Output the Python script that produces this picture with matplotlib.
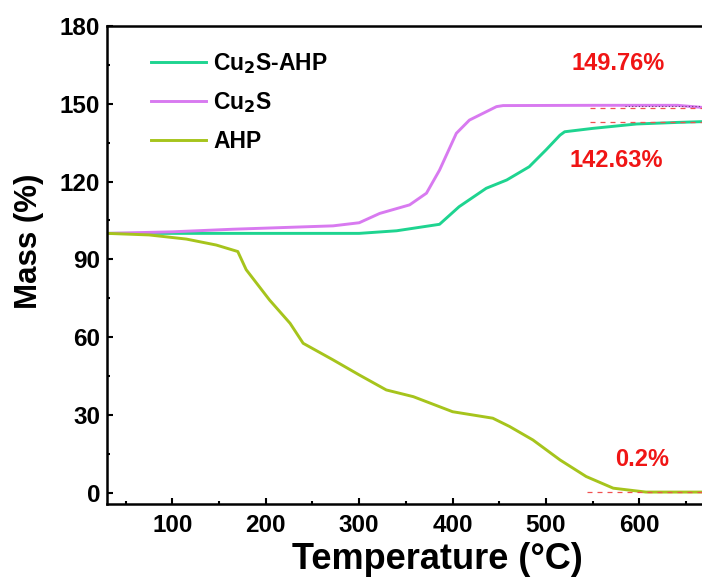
import numpy as np
import matplotlib.pyplot as plt
from matplotlib.ticker import MultipleLocator

plt.rcParams['font.family'] = ['Liberation Sans', 'DejaVu Sans']
plt.rcParams['font.weight'] = 'bold'

# temperature (C) / mass (%)
t_cs_ahp = [30, 100, 200, 300, 340, 386, 407, 436, 458, 482, 500, 515, 520, 550, 597, 640, 667]
m_cs_ahp = [100, 100, 100, 100, 101, 103.5, 110.3, 117.4, 120.6, 125.7, 132.2, 137.9, 139.2, 140.5, 142.2, 142.8, 143.1]

t_cs = [30, 100, 165, 272, 300, 322, 354, 372, 386, 404, 418, 447, 454, 550, 641, 667]
m_cs = [100, 100.6, 101.6, 102.9, 104.1, 107.7, 111, 115.5, 124.4, 138.6, 143.7, 148.9, 149.3, 149.4, 149.4, 148.6]

t_ahp = [30, 75, 115, 147, 170, 179, 204, 226, 240, 272, 300, 329, 358, 400, 443, 461, 486, 515, 543, 572, 607, 667]
m_ahp = [100, 99.4, 97.8, 95.5, 93, 86, 74.3, 65.3, 57.6, 51.2, 45.4, 39.6, 37.0, 31.2, 28.7, 25.5, 20.3, 12.6, 6.2, 1.7, 0.2, 0.2]

labels = ['Cu$_2$S-AHP', 'Cu$_2$S', 'AHP']
colors = ['#1ed490', '#d87af0', '#a6c41c']

# final residue marks: (text, dashed-line level, dash start, text x, text y)
marks = [('149.76%', 148.4, 547, 527, 165.4),
         ('142.63%', 143.0, 547, 525, 128.1),
         ('0.2%', 0.2, 544, 574, 12.8)]

fig = plt.figure(figsize=(7.02, 5.79), dpi=100)
ax = fig.add_axes([107 / 702, 75 / 579, 595 / 702, 478 / 579])

ax.plot(t_cs_ahp, m_cs_ahp, color=colors[0], lw=2.1, label=labels[0])
ax.plot(t_cs, m_cs, color=colors[1], lw=2.1, label=labels[1])
ax.plot(t_ahp, m_ahp, color=colors[2], lw=2.1, label=labels[2])
ax.plot([585, 667], [149.2, 149.2], color='#6a3a7a', lw=0.8, ls=(0, (1, 2)))

for txt, lvl, x0, tx, ty in marks:
    ax.plot([x0, 667], [lvl, lvl], color='#f05050', lw=0.9, ls=(0, (4, 4)))
    ax.text(tx, ty, txt, color='#f01515', fontsize=17, fontweight='bold', va='center')

ax.set_xlim(30, 667)
ax.set_ylim(-4.4, 180)
ax.xaxis.set_major_locator(MultipleLocator(100))
ax.xaxis.set_minor_locator(MultipleLocator(50))
ax.yaxis.set_major_locator(MultipleLocator(30))
ax.yaxis.set_minor_locator(MultipleLocator(15))
ax.tick_params(which='both', direction='in', width=1.5, labelsize=17.5)
ax.tick_params(which='major', length=4)
ax.tick_params(which='minor', length=2)
ax.tick_params(axis='x', pad=7)
ax.tick_params(axis='y', pad=5)
for s in ['left', 'bottom', 'top']:
    ax.spines[s].set_linewidth(1.8)
ax.spines['right'].set_visible(False)

ax.set_xlabel('Temperature (°C)', fontsize=26, fontweight='bold')
ax.set_ylabel('Mass (%)', fontsize=22.5, fontweight='bold')
ax.xaxis.set_label_coords(0.555, -0.079)
ax.yaxis.set_label_coords(-0.106, 0.55)

ax.legend(loc='upper left', bbox_to_anchor=(0.04, 0.99), frameon=False,
          prop={'size': 16.5, 'weight': 'bold'}, handlelength=2.4, handletextpad=0.3,
          labelspacing=0.62)

fig.savefig('out.png', dpi=100)
